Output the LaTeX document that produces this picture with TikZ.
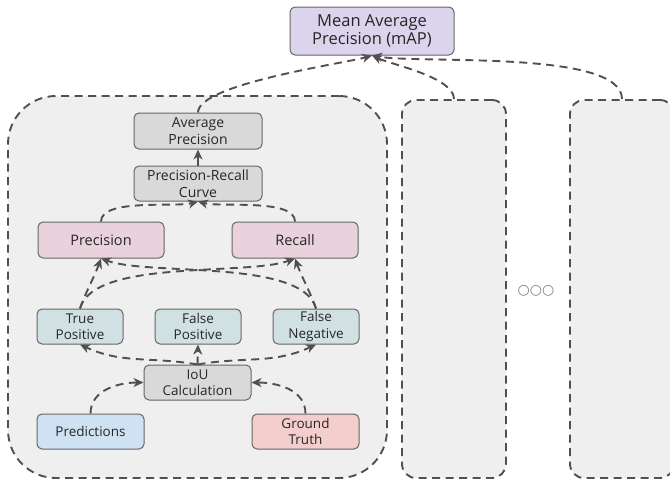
\documentclass[tikz,border=0pt]{standalone}
\usepackage{fontspec}
\setmainfont{Open Sans}
\newfontfamily\dotfont{DejaVu Sans}
\usepackage{xcolor}
\usetikzlibrary{arrows.meta,positioning}

\definecolor{edgegray}{HTML}{505050}
\definecolor{boxline}{HTML}{666666}
\definecolor{panelfill}{HTML}{EFEFEF}
\definecolor{mapfill}{HTML}{DCD3EC}
\definecolor{grayfill}{HTML}{D9D9D9}
\definecolor{pinkfill}{HTML}{EAD2DC}
\definecolor{tealfill}{HTML}{D1E1E3}
\definecolor{bluefill}{HTML}{CFE2F3}
\definecolor{redfill}{HTML}{F4CDCD}
\definecolor{textgray}{HTML}{262626}

\begin{document}
\begin{tikzpicture}[x=1pt, y=-1pt,
        font=\fontsize{13.5}{16.5}\selectfont, text=textgray,
        box/.style={draw=boxline, line width=1pt, rounded corners=5pt, align=center, inner sep=0pt, minimum width=86pt, minimum height=35pt},
        panel/.style={draw=edgegray, fill=panelfill, line width=1.9pt, dash pattern=on 8pt off 5.5pt, inner sep=0pt},
        arr/.style={-{Stealth[length=10pt, width=9pt, inset=3pt]}, edgegray, line width=1.9pt},
        dasharr/.style={arr, dash pattern=on 8pt off 5.5pt}
    ]
        \useasboundingbox (0,0) rectangle (670,483);

        % the three groups
        \node[panel, rounded corners=48pt, minimum width=379pt, minimum height=382pt] (grpA) at (197.5,287) {};
        \node[panel, rounded corners=14pt, minimum width=104pt, minimum height=378pt] (grpB) at (454,289) {};
        \node[panel, rounded corners=14pt, minimum width=104pt, minimum height=378pt] (grpC) at (622,289) {};
        \node[font=\dotfont\fontsize{14}{14}\selectfont, text=gray] (more) at (536,291) {○○○};

        \node[box, fill=mapfill, minimum width=164pt, minimum height=48pt, font=\fontsize{16.5}{18.7}\selectfont] (map) at (372,31) {Mean Average\\Precision (mAP)};

        \node[box, fill=grayfill, minimum width=128pt, minimum height=36pt, font=\fontsize{14}{16.7}\selectfont] (ap) at (198,131) {Average\\Precision};
        \node[box, fill=grayfill, minimum width=128pt, minimum height=35pt, font=\fontsize{14}{16.7}\selectfont] (prc) at (198,183.5) {Precision-Recall\\Curve};

        \node[box, fill=pinkfill, minimum width=126pt, minimum height=36pt, font=\fontsize{14.5}{17}\selectfont] (prec) at (101,240) {Precision};
        \node[box, fill=pinkfill, minimum width=126pt, minimum height=36pt, font=\fontsize{14.5}{17}\selectfont] (rec) at (295,240) {Recall};

        \node[box, fill=tealfill] (tp) at (80,326.5) {True\\Positive};
        \node[box, fill=tealfill] (fp) at (198,326.5) {False\\Positive};
        \node[box, fill=tealfill] (fn) at (316,326.5) {False\\Negative};

        \node[box, fill=grayfill, minimum width=107pt] (iou) at (197.5,382.5) {IoU\\Calculation};
        \node[box, fill=bluefill, minimum width=107pt] (pred) at (90.5,431.5) {Predictions};
        \node[box, fill=redfill, minimum width=107pt] (gt) at (305.5,431.5) {Ground\\Truth};

        % inputs into IoU
        \draw[dasharr] (pred.north) to[out=90, in=180] (iou.west);
        \draw[dasharr] (gt.north) to[out=90, in=0] (iou.east);

        % IoU into the counts
        \draw[dasharr] (iou.north) to[out=170, in=-25] (tp.south);
        \draw[dasharr] (iou.north) -- (fp.south);
        \draw[dasharr] (iou.north) to[out=10, in=-155] (fn.south);

        % counts into precision and recall
        \draw[dasharr] (tp.north) to[out=70, in=-110] (prec.south);
        \draw[dasharr] (tp.north) to[out=75, in=-160, looseness=0.6] (rec.south);
        \draw[dasharr] (fn.north) to[out=105, in=-20, looseness=0.6] (prec.south);
        \draw[dasharr] (fn.north) to[out=110, in=-70] (rec.south);

        % up to the curve and AP
        \draw[dasharr] (prec.north) to[out=90, in=195, looseness=0.6] (prc.south);
        \draw[dasharr] (rec.north) to[out=90, in=-15, looseness=0.6] (prc.south);
        \draw[arr] (prc.north) -- (ap.south);

        % every group into mAP
        \draw[dasharr] (ap.north) to[out=90, in=-164, looseness=0.4] (map.south);
        \draw[dasharr] (grpB.north) to[out=90, in=-25, looseness=0.6] (map.south);
        \draw[dasharr] (grpC.north) to[out=90, in=-10, looseness=0.5] (map.south);
    \end{tikzpicture}
\end{document}
